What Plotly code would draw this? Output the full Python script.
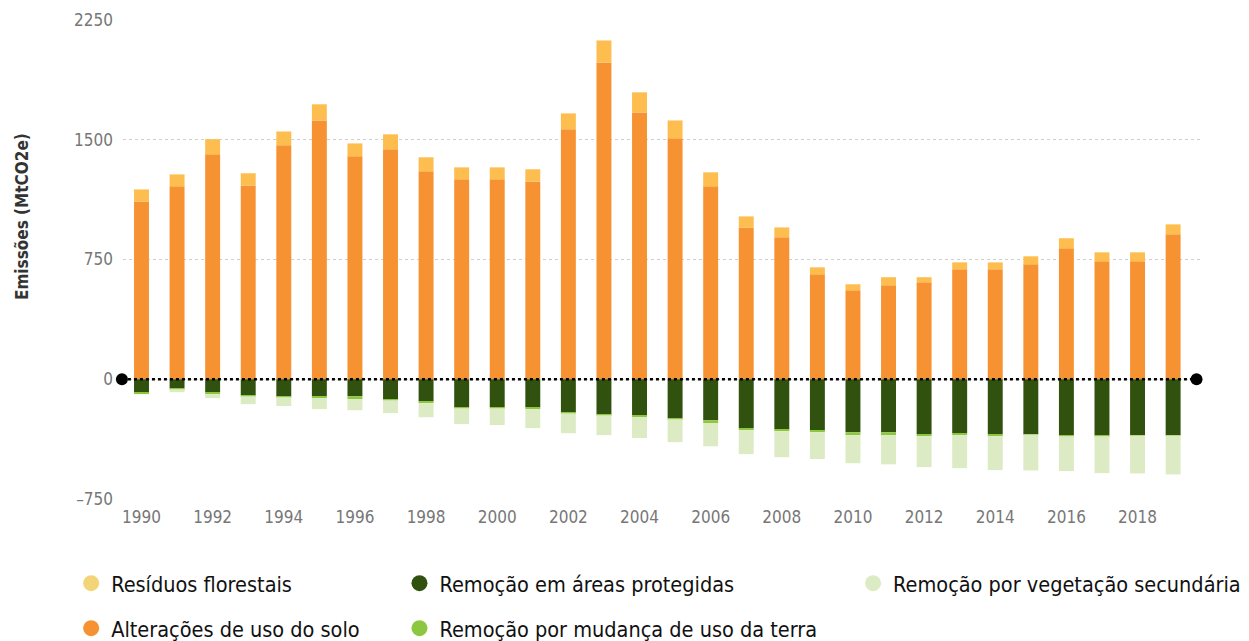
import plotly.graph_objects as go

# data (MtCO2e)
years = list(range(1990, 2020))

alteracoes = [1114, 1208, 1409, 1214, 1465, 1621, 1396, 1440, 1302, 1252,
              1252, 1239, 1565, 1984, 1671, 1509, 1208, 951, 889, 657,
              557, 588, 607, 689, 689, 720, 820, 739, 739, 908]
residuos = [75, 75, 95, 76, 87, 101, 81, 94, 88, 75,
            75, 76, 100, 138, 126, 112, 88, 69, 62, 44,
            38, 51, 32, 43, 43, 50, 63, 56, 56, 62]
rem_protegidas = [-81, -56, -81, -100, -106, -106, -106, -125, -138, -175,
                  -175, -175, -207, -219, -225, -244, -257, -307, -313, -319,
                  -332, -332, -344, -338, -344, -344, -350, -350, -350, -350]
rem_mudanca = [-12, -6, -12, -6, -6, -12, -19, -6, -12, -6,
               -6, -12, -6, -6, -12, -6, -19, -12, -12, -12,
               -19, -19, -12, -12, -12, -2, -6, -6, -2, -2]
rem_secundaria = [0, -19, -25, -50, -56, -69, -69, -81, -88, -100,
                  -106, -119, -125, -125, -131, -144, -144, -150, -163, -169,
                  -175, -182, -194, -207, -213, -225, -219, -232, -238, -244]

series = [
    ("Alterações de uso do solo", alteracoes, "#F79233", "#F79233", "legend"),
    ("Resíduos florestais", residuos, "#FDBE4F", "#F3D577", "legend"),
    ("Remoção em áreas protegidas", rem_protegidas, "#31520F", "#31520F", "legend2"),
    ("Remoção por mudança de uso da terra", rem_mudanca, "#8DC63F", "#8DC63F", "legend2"),
    ("Remoção por vegetação secundária", rem_secundaria, "#DCEBC4", "#DCEBC4", "legend3"),
]
legend_order = ["Resíduos florestais", "Alterações de uso do solo",
                "Remoção em áreas protegidas", "Remoção por mudança de uso da terra",
                "Remoção por vegetação secundária"]

FONT = "Liberation Sans Narrow, DejaVu Sans Condensed, Roboto, sans-serif"

fig = go.Figure()
for name, vals, color, lcolor, lg in series:
    fig.add_trace(go.Bar(x=years, y=vals, name=name, marker=dict(color=color, line=dict(width=0)),
                         showlegend=False))

# legend entries with round symbols
for name in legend_order:
    s = [t for t in series if t[0] == name][0]
    fig.add_trace(go.Scatter(x=[None], y=[None], mode='markers', name=name,
                             marker=dict(color=s[3], size=16, symbol='circle'),
                             legend=s[4], legendgroup=name, showlegend=True))

legend_common = dict(orientation='v', yanchor='top', y=-0.133, xanchor='left',
                     font=dict(family=FONT, size=21.5, color='#111'),
                     tracegroupgap=14, bgcolor='rgba(0,0,0,0)', itemsizing='trace')

fig.update_layout(
    width=1249, height=641,
    margin=dict(l=123, r=46, t=20, b=142, autoexpand=False),
    plot_bgcolor='white', paper_bgcolor='white',
    barmode='relative', bargap=0.58,
    font=dict(family=FONT, color='#777'),
    xaxis=dict(range=[1989.48, 2019.84], tickmode='linear', tick0=1990, dtick=2,
               showgrid=False, zeroline=False, showline=False, ticks='', ticklabelstandoff=6,
               tickfont=dict(size=17, color='#777')),
    yaxis=dict(range=[-750, 2250], tickvals=[-750, 0, 750, 1500, 2250],
               ticktext=['–750', '0', '750', '1500', '2250'],
               showgrid=True, gridcolor='#cfcfcf', griddash='dot', gridwidth=1,
               zeroline=False, showline=False, ticks='', ticklabelstandoff=9,
               tickfont=dict(size=17, color='#777')),
    legend=dict(legend_common, x=-0.048),
    legend2=dict(legend_common, x=0.256),
    legend3=dict(legend_common, x=0.676),
    annotations=[dict(text="<b>Emissões (MtCO2e)</b>", textangle=-90, xref='paper', yref='paper',
                      x=-0.104, y=0.59, showarrow=False,
                      font=dict(family=FONT, size=17, color='#333'))],
    shapes=[
        dict(type='line', xref='paper', yref='y', x0=-0.001, x1=0.994, y0=0, y1=0,
             line=dict(color='black', width=2.5, dash='dot'), layer='above'),
        dict(type='circle', xref='paper', yref='y', xsizemode='pixel', ysizemode='pixel',
             xanchor=-0.001, yanchor=0, x0=-6, x1=6, y0=-6, y1=6,
             fillcolor='black', line=dict(width=0), layer='above'),
        dict(type='circle', xref='paper', yref='y', xsizemode='pixel', ysizemode='pixel',
             xanchor=0.994, yanchor=0, x0=-6, x1=6, y0=-6, y1=6,
             fillcolor='black', line=dict(width=0), layer='above'),
    ],
)

fig.write_html("out.html", config={'displayModeBar': False},
               post_script="document.body.style.margin='0';document.body.style.overflow='hidden';")
